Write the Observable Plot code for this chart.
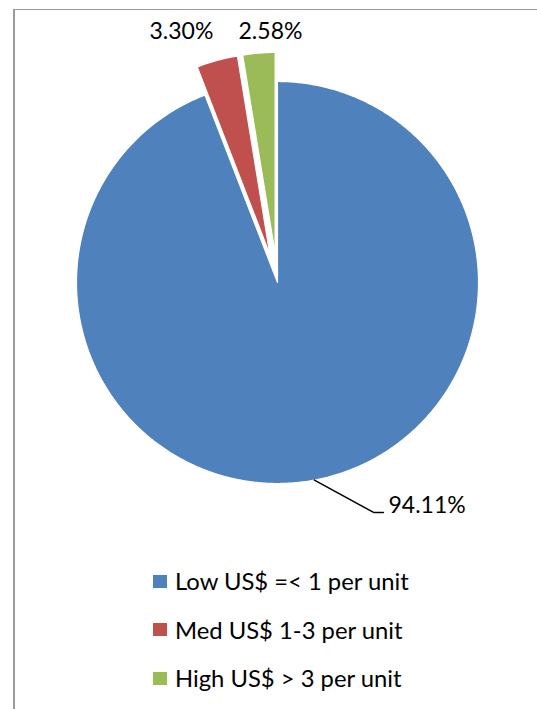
<!DOCTYPE html>
<html>
<head>
<meta charset="utf-8">
<script src="https://cdn.jsdelivr.net/npm/d3@7"></script>
<script src="https://cdn.jsdelivr.net/npm/@observablehq/plot@0.6"></script>
<style>
  body { margin: 0; background: #fff; }
  #wrap { position: relative; width: 537px; height: 709px; overflow: hidden; background: #fff; font-family: Lato, "Open Sans", sans-serif; }
  #frame { position: absolute; left: 13px; top: 9px; right: -10px; bottom: -10px; border-top: 1.5px solid #9a9a9a; border-left: 2px solid #9a9a9a; }
  #chart { position: absolute; left: 0; top: 0; }
  #legend { position: absolute; left: 153px; top: 557px; }
  .row { display: flex; align-items: center; height: 48.5px; }
  .sw { width: 14px; height: 13px; margin-right: 8px; }
  .lab { font-size: 23.8px; color: #000; white-space: nowrap; }
</style>
</head>
<body>
<div id="wrap">
  <div id="frame"></div>
  <div id="chart"></div>
  <div id="legend"></div>
</div>
<script>
// ---- data ----
const categories = ["Low US$ =< 1 per unit", "Med US$ 1-3 per unit", "High US$ > 3 per unit"];
const shares = [94.11, 3.30, 2.58];
const labels = ["94.11%", "3.30%", "2.58%"];
const colors = ["#4F81BD", "#C0504D", "#9BBB59"];
const explode = [0, 0.145, 0.145];

// ---- geometry (data units: radius = 1) ----
const pie = d3.pie().sort(null).value(d => d.share);
const slices = pie(categories.map((c, i) => ({cat: c, share: shares[i], ex: explode[i], label: labels[i]})));

const polyRows = [];
for (const s of slices) {
  const mid = (s.startAngle + s.endAngle) / 2;
  const ox = s.data.ex * Math.sin(mid), oy = s.data.ex * Math.cos(mid);
  polyRows.push({cat: s.data.cat, x: ox, y: oy});
  const n = Math.max(4, Math.ceil((s.endAngle - s.startAngle) / (Math.PI / 360)));
  for (let k = 0; k <= n; k++) {
    const a = s.startAngle + (s.endAngle - s.startAngle) * k / n;
    polyRows.push({cat: s.data.cat, x: ox + Math.sin(a), y: oy + Math.cos(a)});
  }
}

// label layout (outside, Excel-like placement)
const labelLayout = [
  {dx: 0.552, dy: -1.109, anchor: "start"},
  {dx: -0.478, dy: 1.249, anchor: "middle"},
  {dx: -0.035, dy: 1.249, anchor: "middle"}
];
const labelRows = slices.map((s, i) => ({text: s.data.label, x: labelLayout[i].dx, y: labelLayout[i].dy, anchor: labelLayout[i].anchor}));

// leader line for the big slice
const bigMid = (slices[0].startAngle + slices[0].endAngle) / 2;
const leader = [
  {x: Math.sin(bigMid), y: Math.cos(bigMid)},
  {x: 0.478, y: -1.144},
  {x: 0.527, y: -1.144}
];

const chart = Plot.plot({
  width: 537,
  height: 545,
  margin: 0,
  x: {domain: [-1, 1], range: [76, 478], axis: null},
  y: {domain: [-1, 1], range: [483, 81], axis: null},
  color: {domain: categories, range: colors},
  style: {background: "transparent", overflow: "visible", fontFamily: "Lato, 'Open Sans', sans-serif"},
  marks: [
    Plot.line(polyRows, {x: "x", y: "y", z: "cat", fill: "cat", stroke: "white", strokeWidth: 1.2, curve: "linear-closed"}),
    Plot.line(leader, {x: "x", y: "y", stroke: "black", strokeWidth: 1.5}),
    Plot.text(labelRows.filter(d => d.anchor === "start"), {x: "x", y: "y", text: "text", textAnchor: "start", fontSize: 23, fill: "black"}),
    Plot.text(labelRows.filter(d => d.anchor === "middle"), {x: "x", y: "y", text: "text", textAnchor: "middle", fontSize: 23, fill: "black"})
  ]
});
document.getElementById("chart").appendChild(chart);

const legend = document.getElementById("legend");
categories.forEach((c, i) => {
  const row = document.createElement("div");
  row.className = "row";
  const sw = document.createElement("div");
  sw.className = "sw";
  sw.style.background = colors[i];
  const lab = document.createElement("div");
  lab.className = "lab";
  lab.textContent = c;
  row.appendChild(sw);
  row.appendChild(lab);
  legend.appendChild(row);
});
</script>
</body>
</html>
